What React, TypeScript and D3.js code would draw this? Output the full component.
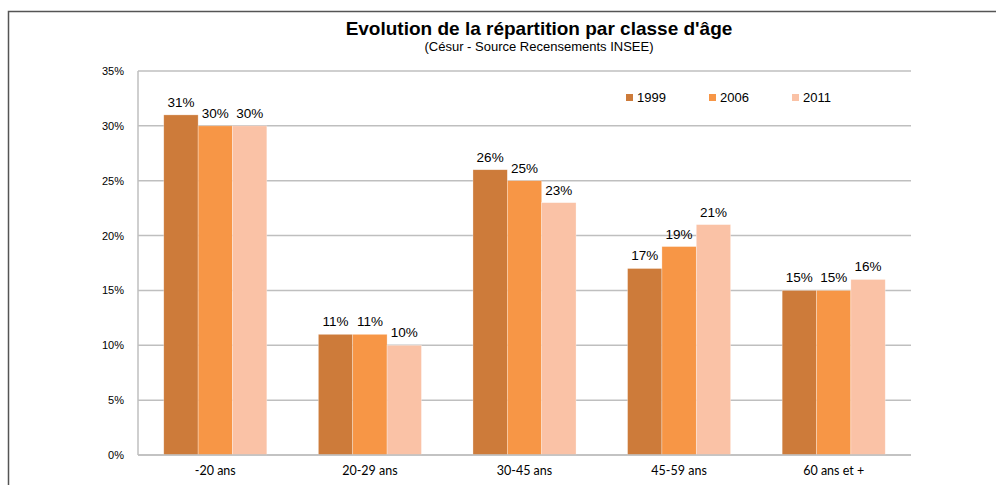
import React from "react";
import * as d3 from "d3";

const categories = ["-20 ans", "20-29 ans", "30-45 ans", "45-59 ans", "60 ans et +"];
const years = ["1999", "2006", "2011"];
const values1999 = [31, 11, 26, 17, 15];
const values2006 = [30, 11, 25, 19, 15];
const values2011 = [30, 10, 23, 21, 16];
const yTicks = [0, 5, 10, 15, 20, 25, 30, 35];
const colors = ["#CD7B3A", "#F79646", "#FAC2A6"];

const series = [values1999, values2006, values2011];

export default function App() {
  const width = 996;
  const height = 485;
  const margin = { top: 71, left: 138, right: 85, bottom: 30 };
  const innerW = width - margin.left - margin.right;
  const innerH = 455 - margin.top;

  const x0 = d3.scaleBand<string>().domain(categories).range([0, innerW]).paddingInner(0.3333).paddingOuter(0.1667);
  const x1 = d3.scaleBand<string>().domain(years).range([0, x0.bandwidth()]);
  const y = d3.scaleLinear().domain([0, 35]).range([innerH, 0]);

  return (
    <svg
      width={width}
      height={height}
      style={{ position: "absolute", left: 0, top: 0, background: "#fff" }}
    >
      {/* cadre */}
      <path d="M8.5,485 L8.5,11.5 L996,11.5" fill="none" stroke="#555" strokeWidth={1.5} />

      <text x={539} y={35} textAnchor="middle" fontFamily="Liberation Sans, Arial" fontWeight="bold" fontSize={19} fill="#000">
        Evolution de la répartition par classe d'âge
      </text>
      <text x={539} y={51} textAnchor="middle" fontFamily="Liberation Sans, Arial" fontSize={13} fill="#000">
        (Césur - Source  Recensements INSEE)
      </text>

      <g transform={`translate(${margin.left},${margin.top})`}>
        <g stroke="#BFBFBF" strokeWidth={1.5}>
          {yTicks.map((t) => (
            <line key={t} x1={0} x2={innerW} y1={y(t)} y2={y(t)} />
          ))}
          <line x1={0} x2={0} y1={0} y2={innerH} />
        </g>

        <g fontFamily="Liberation Sans, Arial" fontSize={11} fill="#000">
          {yTicks.map((t) => (
            <text key={t} x={-14} y={y(t) + 4} textAnchor="end">
              {t}%
            </text>
          ))}
        </g>

        {categories.map((c, i) => (
          <g key={c} transform={`translate(${x0(c)},0)`}>
            {years.map((yr, j) => (
              <rect
                key={yr}
                x={x1(yr)}
                y={y(series[j][i])}
                width={x1.bandwidth()}
                height={innerH - y(series[j][i])}
                fill={colors[j]}
                stroke="#fff"
                strokeOpacity={0.5}
                strokeWidth={0.6}
              />
            ))}
            {years.map((yr, j) => (
              <text
                key={yr}
                x={(x1(yr) as number) + x1.bandwidth() / 2}
                y={y(series[j][i]) - 8}
                textAnchor="middle"
                fontFamily="Liberation Sans, Arial"
                fontSize={13.5}
                fill="#000"
              >
                {series[j][i]}%
              </text>
            ))}
            <text
              x={x0.bandwidth() / 2}
              y={innerH + 20}
              textAnchor="middle"
              fontFamily="Lato, Open Sans, sans-serif"
              fontSize={12.5}
              fill="#000"
            >
              {c}
            </text>
          </g>
        ))}
        <line x1={0} x2={innerW} y1={innerH} y2={innerH} stroke="#BFBFBF" strokeWidth={1.5} />
      </g>

      <g fontFamily="Liberation Sans, Arial" fontSize={13} fill="#000">
        {years.map((yr, j) => (
          <g key={yr} transform={`translate(${626 + j * 83},94)`}>
            <rect x={0} y={0} width={7} height={7} fill={colors[j]} />
            <text x={11} y={8}>{yr}</text>
          </g>
        ))}
      </g>
    </svg>
  );
}
